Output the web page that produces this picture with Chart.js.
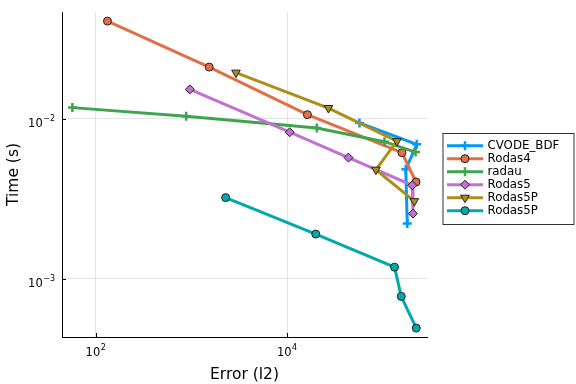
<!DOCTYPE html>
<html>
<head>
<meta charset="utf-8">
<script src="https://cdn.jsdelivr.net/npm/chart.js@4.4.0/dist/chart.umd.min.js"></script>
<style>
  html, body { margin: 0; padding: 0; background: #fff; }
  #wrap { width: 576px; height: 384px; }
</style>
</head>
<body>
<div id="wrap"><canvas id="wpChart" width="576" height="384"></canvas></div>
<script>
// series names, in the order Plots gave them
const seriesNames = ['CVODE_BDF', 'Rodas4', 'radau', 'Rodas5', 'Rodas5P', 'Rodas5P'];

// error (l2) vs time (s)
const cvodeErr   = [57150, 227000, 174200, 180600];
const cvodeTime  = [0.00939, 0.00691, 0.00482, 0.00221];
const rodas4Err  = [132.6, 1535, 16330, 158900, 222800];
const rodas4Time = [0.0407, 0.0210, 0.01059, 0.00613, 0.00402];
const radauErr   = [57.0, 882, 20470, 104400, 220500];
const radauTime  = [0.01172, 0.01034, 0.00873, 0.00718, 0.00618];
const rodas5Err  = [964, 10670, 43850, 203700, 207100];
const rodas5Time = [0.01524, 0.00823, 0.00571, 0.00383, 0.00255];
const rodas5pErr  = [2924, 27060, 140900, 84900, 213800];
const rodas5pTime = [0.01939, 0.01165, 0.00724, 0.00480, 0.00305];
const rodas5p2Err  = [2280, 19960, 132900, 156200, 224300];
const rodas5p2Time = [0.00321, 0.00190, 0.00118, 0.000775, 0.000491];

// tick positions (log axes, only the decades are labelled)
const xTicks = [1e2, 1e4];
const yTicks = [1e-3, 1e-2];

const colors = ['#009AFA', '#E36F47', '#3EA44E', '#C271D2', '#AC8E18', '#00A9AD'];
const markers = [
    { style: 'cross', radius: 4.5, rotation: 0 },
    { style: 'circle', radius: 4, rotation: 0 },
    { style: 'cross', radius: 4.5, rotation: 0 },
    { style: 'rectRot', radius: 4.5, rotation: 0 },
    { style: 'triangle', radius: 5, rotation: 180 },
    { style: 'circle', radius: 4, rotation: 0 }
];

const errs = [cvodeErr, rodas4Err, radauErr, rodas5Err, rodas5pErr, rodas5p2Err];
const times = [cvodeTime, rodas4Time, radauTime, rodas5Time, rodas5pTime, rodas5p2Time];

const FONT = '"DejaVu Sans", sans-serif';

function markerBorder(i) {
    // crosses are drawn in the series colour, the rest get a dark outline
    return markers[i].style === 'cross' ? colors[i] : '#222';
}
function markerBorderWidth(i) {
    return markers[i].style === 'cross' ? 2.5 : 1;
}

const datasets = seriesNames.map((name, i) => ({
    label: name,
    data: errs[i].map((e, j) => ({ x: e, y: times[i][j] })),
    showLine: true,
    borderColor: colors[i],
    backgroundColor: colors[i],
    borderWidth: 3,
    pointStyle: markers[i].style,
    pointRadius: markers[i].radius,
    pointRotation: markers[i].rotation,
    pointBackgroundColor: colors[i],
    pointBorderColor: markerBorder(i),
    pointBorderWidth: markerBorderWidth(i),
    order: seriesNames.length - i // later series on top, like Plots
}));

// write "10" with a raised exponent
function drawPow(ctx, exp, x, baseline, align) {
    ctx.save();
    ctx.fillStyle = '#000';
    ctx.textBaseline = 'alphabetic';
    ctx.textAlign = 'left';
    const baseFont = '11.5px ' + FONT;
    const supFont = '8px ' + FONT;
    const supText = exp < 0 ? '\u2212' + Math.abs(exp) : String(exp);
    ctx.font = baseFont;
    const wBase = ctx.measureText('10').width;
    ctx.font = supFont;
    const wSup = ctx.measureText(supText).width;
    const total = wBase + wSup + 0.5;
    let left = x;
    if (align === 'center') left = x - total / 2;
    if (align === 'right') left = x - total;
    ctx.font = baseFont;
    ctx.fillText('10', left, baseline);
    ctx.font = supFont;
    ctx.fillText(supText, left + wBase + 0.5, baseline - 6.5);
    ctx.restore();
}

const plotsDecor = {
    id: 'plotsDecor',
    afterDraw(chart) {
        const ctx = chart.ctx;
        const area = chart.chartArea;
        const xs = chart.scales.x, ys = chart.scales.y;

        // small inward tick marks
        ctx.save();
        ctx.strokeStyle = '#000';
        ctx.lineWidth = 1;
        xTicks.forEach(v => {
            const px = Math.round(xs.getPixelForValue(v)) + 0.5;
            ctx.beginPath();
            ctx.moveTo(px, area.bottom);
            ctx.lineTo(px, area.bottom - 4);
            ctx.stroke();
        });
        yTicks.forEach(v => {
            const py = Math.round(ys.getPixelForValue(v)) + 0.5;
            ctx.beginPath();
            ctx.moveTo(area.left, py);
            ctx.lineTo(area.left + 4, py);
            ctx.stroke();
        });
        ctx.restore();

        // tick labels
        xTicks.forEach(v => {
            drawPow(ctx, Math.round(Math.log10(v)), xs.getPixelForValue(v), area.bottom + 19, 'center');
        });
        yTicks.forEach(v => {
            drawPow(ctx, Math.round(Math.log10(v)), area.left - 7, ys.getPixelForValue(v) + 8.5, 'right');
        });

        // axis titles
        ctx.save();
        ctx.fillStyle = '#000';
        ctx.font = '15.5px ' + FONT;
        ctx.textAlign = 'center';
        ctx.textBaseline = 'alphabetic';
        ctx.fillText('Error (l2)', (area.left + area.right) / 2, 379);
        ctx.translate(17.5, (area.top + area.bottom) / 2);
        ctx.rotate(-Math.PI / 2);
        ctx.fillText('Time (s)', 0, 0);
        ctx.restore();

        // legend box
        ctx.save();
        ctx.fillStyle = '#fff';
        ctx.fillRect(443, 133.5, 131, 91);
        ctx.strokeStyle = '#333';
        ctx.lineWidth = 1;
        ctx.strokeRect(443, 133.5, 131, 91);
        seriesNames.forEach((name, i) => {
            const cy = 145.7 + i * 13;
            ctx.strokeStyle = colors[i];
            ctx.lineWidth = 3;
            ctx.beginPath();
            ctx.moveTo(447, cy);
            ctx.lineTo(483, cy);
            ctx.stroke();
            ctx.fillStyle = colors[i];
            ctx.strokeStyle = markerBorder(i);
            ctx.lineWidth = markerBorderWidth(i);
            Chart.helpers.drawPoint(ctx, {
                pointStyle: markers[i].style,
                radius: markers[i].radius,
                rotation: markers[i].rotation,
                borderWidth: markerBorderWidth(i)
            }, 465, cy);
            ctx.fillStyle = '#000';
            ctx.font = '11.8px ' + FONT;
            ctx.textAlign = 'left';
            ctx.textBaseline = 'middle';
            ctx.fillText(name, 487.5, cy + 0.5);
        });
        ctx.restore();
    }
};

const wpChart = new Chart(document.getElementById('wpChart').getContext('2d'), {
    type: 'scatter',
    data: { datasets: datasets },
    options: {
        responsive: false,
        animation: false,
        layout: { padding: { left: 0, top: 12, right: 149, bottom: 0 } },
        plugins: {
            legend: { display: false },
            tooltip: { enabled: false }
        },
        scales: {
            x: {
                type: 'logarithmic',
                min: 44.4,
                max: 290400,
                afterBuildTicks: scale => { scale.ticks = xTicks.map(v => ({ value: v })); },
                afterFit: scale => { scale.height = 47; },
                ticks: { display: false },
                grid: { color: 'rgba(0,0,0,0.1)', lineWidth: 1, drawTicks: false },
                border: { display: true, color: '#000', width: 1 }
            },
            y: {
                type: 'logarithmic',
                min: 0.000432,
                max: 0.0464,
                afterBuildTicks: scale => { scale.ticks = yTicks.map(v => ({ value: v })); },
                afterFit: scale => { scale.width = 62; },
                ticks: { display: false },
                grid: { color: 'rgba(0,0,0,0.1)', lineWidth: 1, drawTicks: false },
                border: { display: true, color: '#000', width: 1 }
            }
        }
    },
    plugins: [plotsDecor]
});
</script>
</body>
</html>
